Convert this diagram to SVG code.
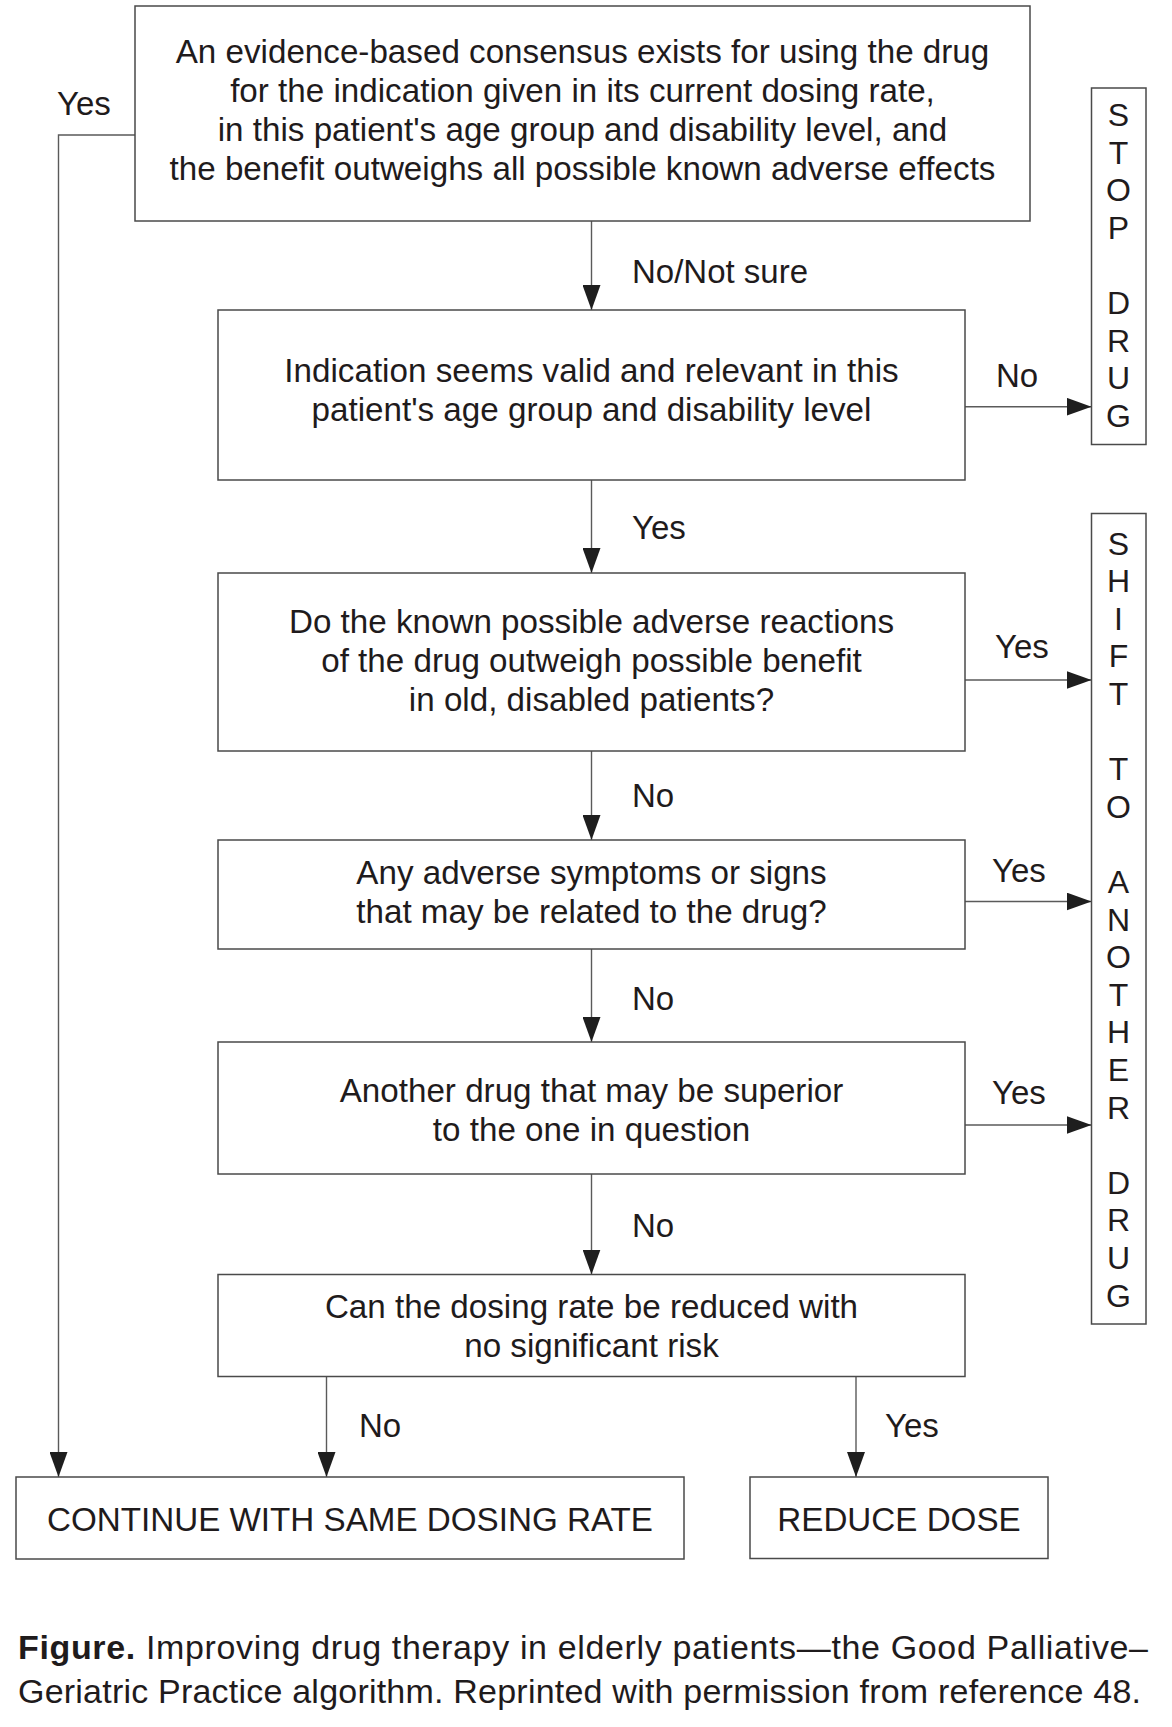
<svg xmlns="http://www.w3.org/2000/svg" width="1172" height="1727" viewBox="0 0 1172 1727">
<style>
  .box { fill: #ffffff; stroke: #4a4a4a; stroke-width: 1.5; }
  .t { font-family: "Liberation Sans", Arial, Helvetica, sans-serif; font-size: 33.2px; fill: #1f1b1c; text-anchor: middle; }
  .lbl { font-family: "Liberation Sans", Arial, Helvetica, sans-serif; font-size: 33px; fill: #1f1b1c; }
  .v { font-family: "Liberation Sans", Arial, Helvetica, sans-serif; font-size: 32px; fill: #1f1b1c; text-anchor: middle; }
  .cap { font-family: "Liberation Sans", Arial, Helvetica, sans-serif; font-size: 34px; fill: #1f1b1c; }
  .conn { fill: none; stroke: #5a5a5a; stroke-width: 1.4; }
</style>
<defs>
  <marker id="arrow" markerUnits="userSpaceOnUse" markerWidth="25" markerHeight="18" refX="25" refY="9" orient="auto" viewBox="0 0 25 18">
    <path d="M0,0 L25,9 L0,18 z" fill="#1e1e1e"/>
  </marker>
</defs>
<rect width="1172" height="1727" fill="#ffffff"/>

<g id="connectors">
  <polyline class="conn" points="135,135 58.5,135 58.5,1477" marker-end="url(#arrow)"/>
  <line class="conn" x1="591.5" y1="221" x2="591.5" y2="310" marker-end="url(#arrow)"/>
  <line class="conn" x1="591.5" y1="480" x2="591.5" y2="573" marker-end="url(#arrow)"/>
  <line class="conn" x1="591.5" y1="751" x2="591.5" y2="840" marker-end="url(#arrow)"/>
  <line class="conn" x1="591.5" y1="949" x2="591.5" y2="1042" marker-end="url(#arrow)"/>
  <line class="conn" x1="591.5" y1="1174" x2="591.5" y2="1274.5" marker-end="url(#arrow)"/>
  <line class="conn" x1="965" y1="406.7" x2="1091.5" y2="406.7" marker-end="url(#arrow)"/>
  <line class="conn" x1="965" y1="680" x2="1091.5" y2="680" marker-end="url(#arrow)"/>
  <line class="conn" x1="965" y1="901.5" x2="1091.5" y2="901.5" marker-end="url(#arrow)"/>
  <line class="conn" x1="965" y1="1125" x2="1091.5" y2="1125" marker-end="url(#arrow)"/>
  <line class="conn" x1="326.5" y1="1376.5" x2="326.5" y2="1477" marker-end="url(#arrow)"/>
  <line class="conn" x1="856" y1="1376.5" x2="856" y2="1477" marker-end="url(#arrow)"/>
  <text class="lbl" x="57" y="115">Yes</text>
  <text class="lbl" x="632" y="283">No/Not sure</text>
  <text class="lbl" x="632" y="539">Yes</text>
  <text class="lbl" x="632" y="807">No</text>
  <text class="lbl" x="632" y="1010">No</text>
  <text class="lbl" x="632" y="1237">No</text>
  <text class="lbl" x="996" y="387">No</text>
  <text class="lbl" x="995" y="658">Yes</text>
  <text class="lbl" x="992" y="882">Yes</text>
  <text class="lbl" x="992" y="1104">Yes</text>
  <text class="lbl" x="359" y="1437">No</text>
  <text class="lbl" x="885" y="1437">Yes</text>
</g>

<g id="node-consensus">
  <rect class="box" x="135" y="6" width="895" height="215"/>
  <text class="t" x="582.5" y="62.5">An evidence-based consensus exists for using the drug</text>
  <text class="t" x="582.5" y="101.8">for the indication given in its current dosing rate,</text>
  <text class="t" x="582.5" y="141.1">in this patient's age group and disability level, and</text>
  <text class="t" x="582.5" y="180.4">the benefit outweighs all possible known adverse effects</text>
</g>

<g id="node-indication">
  <rect class="box" x="218" y="310" width="747" height="170"/>
  <text class="t" x="591.5" y="382">Indication seems valid and relevant in this</text>
  <text class="t" x="591.5" y="421">patient's age group and disability level</text>
</g>

<g id="node-adverse-reactions">
  <rect class="box" x="218" y="573" width="747" height="178"/>
  <text class="t" x="591.5" y="633">Do the known possible adverse reactions</text>
  <text class="t" x="591.5" y="672">of the drug outweigh possible benefit</text>
  <text class="t" x="591.5" y="711">in old, disabled patients?</text>
</g>

<g id="node-symptoms">
  <rect class="box" x="218" y="840" width="747" height="109"/>
  <text class="t" x="591.5" y="883.5">Any adverse symptoms or signs</text>
  <text class="t" x="591.5" y="922.5">that may be related to the drug?</text>
</g>

<g id="node-another-drug">
  <rect class="box" x="218" y="1042" width="747" height="132"/>
  <text class="t" x="591.5" y="1102">Another drug that may be superior</text>
  <text class="t" x="591.5" y="1141">to the one in question</text>
</g>

<g id="node-reduce-question">
  <rect class="box" x="218" y="1274.5" width="747" height="102"/>
  <text class="t" x="591.5" y="1318">Can the dosing rate be reduced with</text>
  <text class="t" x="591.5" y="1357">no significant risk</text>
</g>

<g id="node-stop-drug">
  <rect class="box" x="1091.5" y="88" width="54.5" height="356.5"/>
  <text class="v" x="1118.5" y="126">S</text>
  <text class="v" x="1118.5" y="163.6">T</text>
  <text class="v" x="1118.5" y="201.2">O</text>
  <text class="v" x="1118.5" y="238.8">P</text>
  <text class="v" x="1118.5" y="314">D</text>
  <text class="v" x="1118.5" y="351.6">R</text>
  <text class="v" x="1118.5" y="389.2">U</text>
  <text class="v" x="1118.5" y="426.8">G</text>
</g>

<g id="node-shift-drug">
  <rect class="box" x="1091.5" y="513.5" width="54.5" height="810.5"/>
  <text class="v" x="1118.5" y="554.5">S</text>
  <text class="v" x="1118.5" y="592.1">H</text>
  <text class="v" x="1118.5" y="629.7">I</text>
  <text class="v" x="1118.5" y="667.3">F</text>
  <text class="v" x="1118.5" y="704.9">T</text>
  <text class="v" x="1118.5" y="780.1">T</text>
  <text class="v" x="1118.5" y="817.7">O</text>
  <text class="v" x="1118.5" y="892.9">A</text>
  <text class="v" x="1118.5" y="930.5">N</text>
  <text class="v" x="1118.5" y="968.1">O</text>
  <text class="v" x="1118.5" y="1005.7">T</text>
  <text class="v" x="1118.5" y="1043.3">H</text>
  <text class="v" x="1118.5" y="1080.9">E</text>
  <text class="v" x="1118.5" y="1118.5">R</text>
  <text class="v" x="1118.5" y="1193.7">D</text>
  <text class="v" x="1118.5" y="1231.3">R</text>
  <text class="v" x="1118.5" y="1268.9">U</text>
  <text class="v" x="1118.5" y="1306.5">G</text>
</g>

<g id="node-continue">
  <rect class="box" x="16" y="1477" width="668" height="82"/>
  <text class="t" x="350" y="1530.7">CONTINUE WITH SAME DOSING RATE</text>
</g>

<g id="node-reduce-dose">
  <rect class="box" x="750" y="1477" width="298" height="81.5"/>
  <text class="t" x="899" y="1530.7">REDUCE DOSE</text>
</g>

<g id="caption">
  <text class="cap" x="18" y="1659" textLength="1130" lengthAdjust="spacing"><tspan font-weight="bold">Figure.</tspan> Improving drug therapy in elderly patients—the Good Palliative–</text>
  <text class="cap" x="18" y="1703" textLength="1123" lengthAdjust="spacing">Geriatric Practice algorithm. Reprinted with permission from reference 48.</text>
</g>
</svg>
